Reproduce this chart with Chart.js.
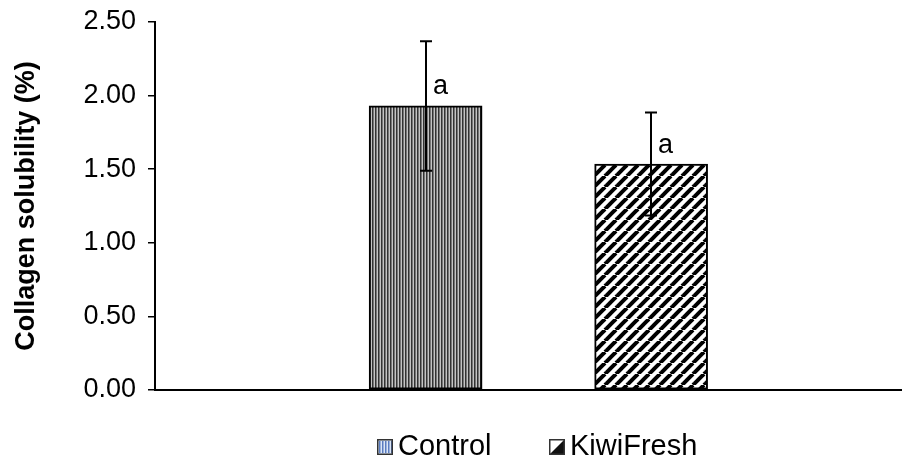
<!DOCTYPE html>
<html lang="en">
  <head>
    <meta charset="UTF-8" />
    <title>Collagen solubility</title>
    <script src="https://cdn.jsdelivr.net/npm/chart.js"></script>
    <style>
      html, body { margin: 0; padding: 0; background: #fff; }
      canvas { display: block; }
    </style>
  </head>
  <body>
    <canvas id="chart" width="902" height="466"></canvas>
    <script>
      // data
      const categories = ["Control", "KiwiFresh"];
      const means = [1.93, 1.535];
      const errors = [0.44, 0.35];
      const letters = ["a", "a"];
      const yTicks = [0, 0.5, 1, 1.5, 2, 2.5];

      const FONT = "'Liberation Sans', Arial, sans-serif";

      // vertical stripe fill for Control
      function stripePattern(dark, mid, light) {
        const c = document.createElement("canvas");
        c.width = 3; c.height = 4;
        const g = c.getContext("2d");
        g.fillStyle = dark; g.fillRect(0, 0, 1, 4);
        g.fillStyle = mid; g.fillRect(1, 0, 1, 4);
        g.fillStyle = light; g.fillRect(2, 0, 1, 4);
        return g.createPattern(c, "repeat");
      }

      // diagonal "/" hatch for KiwiFresh
      function hatchPattern(size, lw) {
        const c = document.createElement("canvas");
        c.width = size; c.height = size;
        const g = c.getContext("2d");
        g.fillStyle = "#fff";
        g.fillRect(0, 0, size, size);
        g.strokeStyle = "#000";
        g.lineWidth = lw;
        for (const o of [-size, 0, size]) {
          g.beginPath();
          g.moveTo(o, size);
          g.lineTo(o + size, 0);
          g.stroke();
        }
        return g.createPattern(c, "repeat");
      }

      const ctx = document.getElementById("chart").getContext("2d");
      const fills = [stripePattern("#333", "#777", "#c4c4c4"), hatchPattern(11, 4)];

      // small legend swatches
      const legendIcons = [
        (g, x, y, s) => {
          g.fillStyle = "#dbe6f6";
          g.fillRect(x, y, s, s);
          g.fillStyle = "#5a7cc0";
          for (let i = 2; i < s - 1; i += 3) g.fillRect(x + i, y + 2, 1.5, s - 4);
        },
        (g, x, y, s) => {
          g.fillStyle = "#fff";
          g.fillRect(x, y, s, s);
          g.fillStyle = "#111";
          g.beginPath();
          g.moveTo(x + s, y);
          g.lineTo(x + s, y + s);
          g.lineTo(x, y + s);
          g.closePath();
          g.fill();
        },
      ];

      const errorBars = {
        id: "errorBars",
        afterDatasetsDraw(chart) {
          const { ctx } = chart;
          const x = chart.scales.x, y = chart.scales.y;
          ctx.save();
          ctx.strokeStyle = "#000";
          ctx.lineWidth = 2;
          categories.forEach((cat, i) => {
            const px = Math.round(x.getPixelForValue(i + 1));
            const top = y.getPixelForValue(means[i] + errors[i]);
            const bot = y.getPixelForValue(means[i] - errors[i]);
            ctx.beginPath();
            ctx.moveTo(px, top); ctx.lineTo(px, bot);
            ctx.moveTo(px - 6, top); ctx.lineTo(px + 6, top);
            ctx.moveTo(px - 6, bot); ctx.lineTo(px + 6, bot);
            ctx.stroke();
            ctx.fillStyle = "#000";
            ctx.font = "27px " + FONT;
            ctx.textAlign = "left";
            ctx.textBaseline = "middle";
            ctx.fillText(letters[i], px + 7, y.getPixelForValue(means[i]) - 19);
          });
          ctx.restore();
        },
      };

      // legend drawn below the axis, Excel-like tight icon/text spacing
      const bottomLegend = {
        id: "bottomLegend",
        afterDraw(chart) {
          const { ctx, chartArea } = chart;
          const cx = (chartArea.left + chartArea.right) / 2;
          const yMid = 447;
          ctx.save();
          ctx.font = "29px " + FONT;
          ctx.textBaseline = "middle";
          ctx.textAlign = "left";
          const box = 16, gapText = 5, gapItem = 58;
          const widths = categories.map(c => box + gapText + ctx.measureText(c).width);
          const total = widths.reduce((a, b) => a + b, 0) + gapItem * (categories.length - 1);
          let xx = Math.round(cx - total / 2 + 9);
          categories.forEach((cat, i) => {
            const top = Math.round(yMid - box / 2);
            legendIcons[i](ctx, xx, top, box);
            ctx.strokeStyle = "#333";
            ctx.lineWidth = 1.5;
            ctx.strokeRect(xx + 0.75, top + 0.75, box - 1.5, box - 1.5);
            ctx.fillStyle = "#000";
            ctx.fillText(cat, xx + box + gapText, yMid);
            xx += Math.round(widths[i] + gapItem);
          });
          ctx.restore();
        },
      };

      new Chart(ctx, {
        type: "bar",
        data: {
          datasets: categories.map((cat, i) => ({
            label: cat,
            data: [{ x: i + 1, y: means[i] }],
            backgroundColor: fills[i],
            borderColor: "#000",
            borderWidth: 2,
            borderSkipped: false,
            barThickness: 113,
            grouped: false,
          })),
        },
        options: {
          responsive: false,
          animation: false,
          layout: { padding: { top: 22, right: 1, left: 10, bottom: 66 } },
          scales: {
            x: {
              type: "linear",
              offset: false,
              min: -0.2,
              max: 3.108,
              grid: { display: false },
              border: { display: true, color: "#000", width: 2 },
              ticks: { display: false },
              afterFit(s) { s.height = 10; },
            },
            y: {
              min: 0,
              max: 2.5,
              afterBuildTicks(s) { s.ticks = yTicks.map(v => ({ value: v })); },
              afterFit(s) { s.width = 145; },
              border: { display: true, color: "#000", width: 2 },
              grid: {
                drawOnChartArea: false,
                drawTicks: true,
                tickLength: 7,
                color: "#000",
                lineWidth: 1.5,
              },
              ticks: {
                color: "#000",
                padding: 12,
                font: { family: FONT, size: 27, lineHeight: 0.6 },
                callback: v => Number(v).toFixed(2),
              },
              title: {
                display: true,
                text: "Collagen solubility (%)",
                color: "#000",
                font: { family: FONT, size: 27, weight: "bold" },
                padding: { top: 0, bottom: 6 },
              },
            },
          },
          plugins: {
            tooltip: { enabled: false },
            legend: { display: false },
          },
        },
        plugins: [errorBars, bottomLegend],
      });
    </script>
  </body>
</html>
